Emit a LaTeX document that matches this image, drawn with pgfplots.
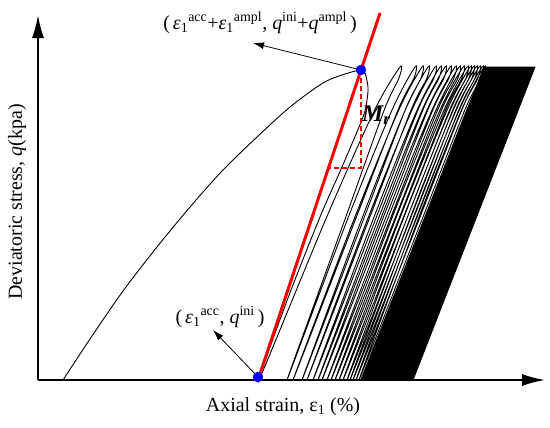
\documentclass[border=0pt]{standalone}
\usepackage{fontspec}
\setmainfont{Liberation Serif}
\usepackage{amsmath}
\usepackage{pgfplots}
\pgfplotsset{compat=1.18}
\usetikzlibrary{arrows.meta}

% hysteresis path: initial loading, then the cyclic loops (x, q in picture units)
\pgfplotstableread{
x y
63 0
90 41
123 89
157 133
190 173
223 210
257 243
290 273
323 297
345 306
361 310
365 307
368 293
367 280
363 263
342 213
320 163
288 82
259 0
326.7 163
374.6 270
400 313
399 302
384.2 270
345.8 163
287 0
348.4 163
392.0 270
415 313
414 302
398.0 270
356.4 163
293 0
354.9 163
398.8 270
422 313
421 302
405.2 270
364.4 163
302 0
362.5 163
405.3 270
428 313
427 302
411.1 270
369.9 163
307 0
368.4 163
412.0 270
435 313
434 302
417.9 270
376.4 163
313 0
374 163
417.1 270
440 313
439 302
422.9 270
381.4 163
318 0
379 163
422.1 270
445 313
444 302
427.8 270
386 163
322 0
383.4 163
427.0 270
450 313
449 302
432.8 270
391 163
327 0
388.4 163
432.0 270
455 313
454 302
437.6 270
395.5 163
331 0
392.4 163
436.0 270
459 313
458 302
441.6 270
399.5 163
335 0
396.4 163
440.0 270
463 313
462 302
445.6 270
403.5 163
339 0
400.4 163
444.0 270
467 313
466 302
449.6 270
407.5 163
343 0
404 163
447.1 270
470 313
469 302
452.8 270
411 163
347 0
407.5 163
450.3 270
473 313
472 302
455.8 270
414 163
350 0
410.5 163
453.3 270
476 313
475 302
458.8 270
417 163
353 0
413.5 163
456.3 270
479 313
478 302
461.8 270
420 163
356 0
416.5 163
459.3 270
482 313
481 302
464.8 270
423 163
359 0
419 163
461.5 270
484 313
483 302
466.8 270
425 163
361 0
}\loops

\newcommand{\eps}{\text{\itshape ε}}
\newcommand{\qq}{\text{\itshape q}}
\newcommand{\lbl}{\fontsize{20}{24}\selectfont}

\begin{document}
\begin{tikzpicture}
\begin{axis}[
  x=1bp, y=1bp,
  xmin=38, xmax=545, ymin=0, ymax=365,
  enlargelimits=false,
  axis lines=left,
  axis line style={line width=1.8bp, -{Latex[length=23bp,width=12bp]}},
  xtick=\empty, ytick=\empty,
  clip=false,
]
\path (axis cs:0,-47) rectangle (axis cs:550,380);

\addplot[black, line width=0.9bp, smooth, tension=0.5] table {\loops};
% dense part of the later cycles
\addplot[fill=black, draw=black, line width=0.9bp] coordinates {(361,0) (413,0) (535,313) (484,313)} -- cycle;

% resilient modulus construction
\addplot[red, line width=1.4bp, dash pattern=on 5bp off 3bp] coordinates {(361,310) (361,212) (328.5,212)};
\addplot[red, line width=3bp] coordinates {(257.3,-2) (380,367)};
\addplot[only marks, mark=*, mark size=5, blue] coordinates {(258,3) (361,310)};

\draw[line width=0.8bp, -{Latex[length=11bp,width=7bp]}] (axis cs:361,310) -- (axis cs:253,337);
\draw[line width=0.8bp, -{Latex[length=11bp,width=7bp]}] (axis cs:258,3) -- (axis cs:213,50);

\node[font=\lbl] at (axis cs:260,357) {(\hspace{3bp}$\eps_{\text{1}}{}^{\text{acc}}\text{+}\eps_{\text{1}}{}^{\text{ampl}}$, $\qq^{\text{ini}}\text{+}\qq^{\text{ampl}}$\hspace{3bp})};
\node[font=\lbl] at (axis cs:220,63) {(\hspace{3bp}$\eps_{\text{1}}{}^{\text{acc}}$, $\qq^{\text{ini}}$\hspace{3bp})};
\node[anchor=base west, inner sep=0pt, font=\fontsize{24}{26}\selectfont\bfseries\itshape] at (axis cs:362,259) {M\textsubscript{r}};

\node[rotate=90, font=\lbl] at (axis cs:17,178) {Deviatoric stress, \textit{q}(kpa)};
\node[font=\lbl] at (axis cs:283,-27) {Axial strain, ε\textsubscript{1} (\%)};
\end{axis}
\end{tikzpicture}
\end{document}
